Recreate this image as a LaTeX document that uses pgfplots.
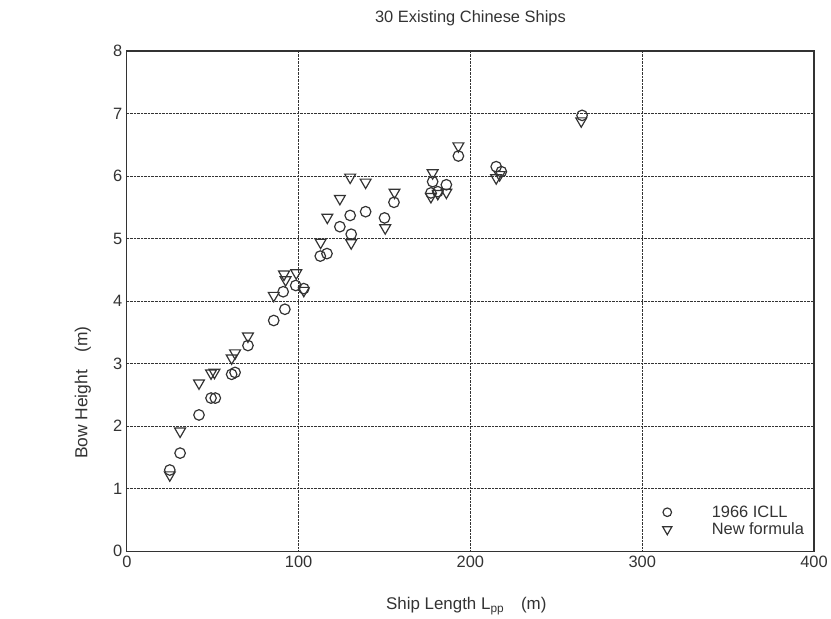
\documentclass[border=0pt]{standalone}
\usepackage{pgfplots}
\pgfplotsset{compat=1.18}
\usepackage{fontspec}
\setmainfont{Liberation Sans}
\definecolor{ink}{HTML}{333333}
\begin{document}
\begin{tikzpicture}
\begin{axis}[
  width=688bp, height=501bp, scale only axis,
  xmin=0, xmax=400, ymin=0, ymax=8,
  xtick={0,100,200,300,400}, ytick={0,1,2,3,4,5,6,7,8},
  grid=major,
  grid style={densely dotted, line width=1pt, color=ink},
  axis line style={line width=1.2pt, color=ink},
  tick style={draw=none},
  tick label style={font=\fontsize{16.5}{18}\selectfont, text=ink},
  /pgf/number format/assume math mode=true,
  xticklabel style={yshift=-1bp},
  yticklabel style={xshift=-1bp},
  clip=false,
  legend style={draw=none, fill=none, at={(axis description cs:0.99,0.024)}, anchor=south east,
    font=\fontsize{16.5}{18}\selectfont, text=ink, row sep=0bp, inner sep=1bp,
    /tikz/every odd column/.append style={column sep=38bp}},
  legend cell align=left,
]
\addlegendimage{only marks, mark=o, mark size=4.3pt, mark options={ink, line width=1.2pt}}
\addlegendentry{1966 ICLL}
\addlegendimage{only marks, mark=triangle, mark size=5.3pt, mark options={ink, line width=1.2pt, rotate=180}}
\addlegendentry{New formula}
\addplot[forget plot, only marks, mark=o, mark size=5.3pt, mark options={ink, line width=1.2pt}] coordinates {
(25,1.30) (31,1.57) (42,2.18) (49,2.45) (51.5,2.45) (61,2.83) (63,2.86) (70.5,3.29)
(85.5,3.69) (92,3.87) (91,4.15) (98.3,4.25) (103,4.20) (112.6,4.72) (116.5,4.76)
(124,5.19) (130,5.37) (130.6,5.07) (139,5.43) (150,5.33) (155.5,5.58)
(178,5.91) (177,5.73) (181,5.75) (186,5.86) (193,6.32) (215,6.15) (218,6.07) (265,6.97)
};
\addplot[forget plot, only marks, mark=triangle, mark size=6.3pt, mark options={ink, line width=1.2pt, rotate=180}] coordinates {
(25,1.22) (31,1.92) (42,2.69) (49,2.85) (51,2.86) (61,3.09) (63,3.17) (70.5,3.44)
(85.5,4.09) (91.5,4.43) (92.4,4.34) (98.6,4.45) (103,4.17) (112.8,4.94) (116.7,5.34)
(124,5.64) (130,5.98) (130.6,4.93) (139,5.90) (150.4,5.17) (155.8,5.74)
(178,6.05) (177,5.67) (181,5.72) (186,5.74) (193,6.48) (215,5.97) (217,6.02) (264.5,6.88)
};
\node[font=\fontsize{16.5}{18}\selectfont, text=ink] at (axis description cs:0.5,1.066) {30 Existing Chinese Ships};
\node[font=\fontsize{17}{19}\selectfont, text=ink] at (axis description cs:0.494,-0.11) {Ship Length L\textsubscript{pp}\quad(m)};
\node[font=\fontsize{17.5}{19}\selectfont, text=ink, rotate=90] at (axis description cs:-0.064,0.317) {Bow Height\quad(m)};
\path (axis description cs:-0.1846,-0.1297) rectangle (axis description cs:1.0247,1.1018);
\end{axis}
\end{tikzpicture}
\end{document}
